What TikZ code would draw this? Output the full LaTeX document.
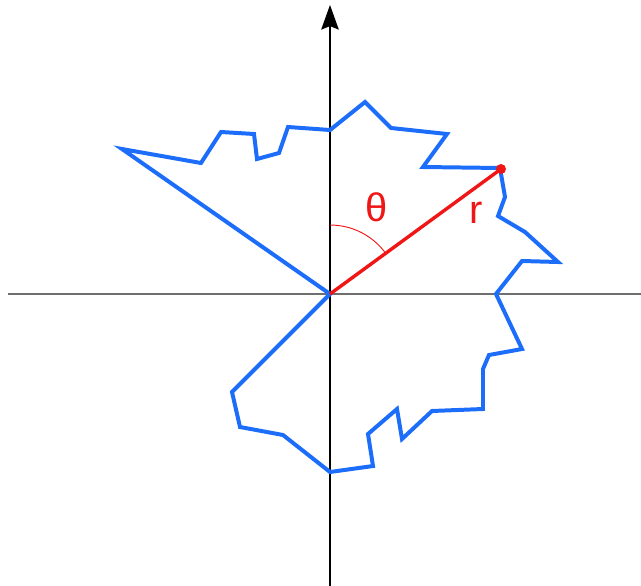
\documentclass[tikz,border=0pt]{standalone}
\usepackage{fontspec}
\setmainfont{Liberation Sans}
\usetikzlibrary{arrows.meta}
\definecolor{birupoly}{RGB}{28,110,250}
\definecolor{merahr}{RGB}{240,22,22}
\definecolor{abuaxis}{RGB}{110,110,110}

\begin{document}
\begin{tikzpicture}[x=0.03cm, y=-0.03cm, font=\fontsize{34}{40}\selectfont]
        \useasboundingbox (0,0) rectangle (641,586);
        % axes
        \coordinate (o) at (330,294);
        \coordinate (xl) at (8,294);
        \coordinate (xr) at (641,294);
        \coordinate (yb) at (330,586);
        \coordinate (yt) at (330,5);
        \draw[abuaxis, line width=1.3pt] (xl) -- (xr);
        \draw[black, line width=1.1pt, -{Stealth[length=21pt, width=15pt, inset=3pt]}] (yb) -- (yt);
        % polygon
        \draw[birupoly, line width=3.4pt, line join=miter] (o)
            \foreach \px/\py in {
                122/149, 201/163, 221/132, 254/134, 257/159, 279/153, 288/127,
                330/130, 365/102, 391/128, 447/134, 423/167, 500/168, 505/197,
                498/216, 525/232, 558/262, 522/261, 496/294, 522/349, 489/355,
                483/369, 483/409, 432/411, 402/439, 397/409, 368/434, 373/466,
                330/472, 283/435, 240/427, 232/392}
            { -- (\px,\py) } -- cycle;
        % radius and angle
        \coordinate (tip) at (501,169);
        \draw[merahr, line width=2.9pt] (o) -- (tip);
        \fill[merahr] (tip) circle (5);
        \draw[merahr, line width=0.8pt] (330,225) arc[start angle=-90, end angle=-36.2, radius=69];
        \node[merahr] (theta) at (377,207) {θ};
        \node[merahr] (rlab) at (476,213) {r};
    \end{tikzpicture}
\end{document}
